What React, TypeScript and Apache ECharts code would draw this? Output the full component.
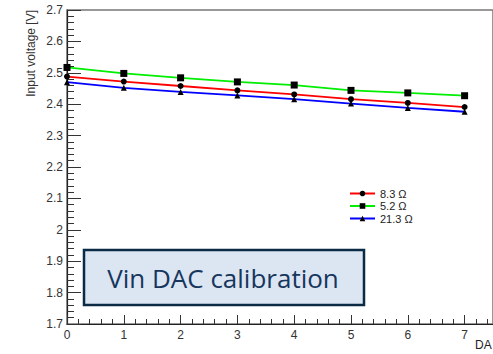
import React, { useEffect, useRef } from "react";
import * as echarts from "echarts";

const dacValues = [0, 1, 2, 3, 4, 5, 6, 7];
const series83 = [2.488, 2.472, 2.458, 2.444, 2.431, 2.416, 2.404, 2.391];
const series52 = [2.517, 2.498, 2.484, 2.471, 2.461, 2.444, 2.436, 2.427];
const series213 = [2.470, 2.452, 2.439, 2.428, 2.416, 2.402, 2.388, 2.376];
const seriesNames = ["8.3 Ω", "5.2 Ω", "21.3 Ω"];

export default function App() {
  const ref = useRef<HTMLDivElement>(null);
  useEffect(() => {
    if (!ref.current) return;
    const chart = echarts.init(ref.current, null, { renderer: "svg" });
    const mk = (vals: number[]) => dacValues.map((x, i) => [x, vals[i]]);
    const labelFont = { fontFamily: "Liberation Sans", fontSize: 12, color: "#333" };
    chart.setOption({
      animation: false,
      backgroundColor: "#fff",
      grid: {
        left: 67,
        right: -1,
        top: 10,
        bottom: 30,
        show: true,
        borderColor: "#777",
        borderWidth: 1.5,
      },
      legend: {
        orient: "vertical",
        left: 344,
        top: 183,
        itemWidth: 25,
        itemHeight: 7,
        itemGap: 1.5,
        textStyle: { fontFamily: "Liberation Sans", fontSize: 11, lineHeight: 11, color: "#222" },
        data: seriesNames,
      },
      xAxis: {
        type: "value",
        min: 0,
        max: 7.5,
        interval: 1,
        axisLine: { lineStyle: { color: "#222", width: 1.2 } },
        axisTick: { inside: true, length: 9, lineStyle: { color: "#333" } },
        minorTick: { show: true, splitNumber: 5, length: 5, lineStyle: { color: "#333" } },
        splitLine: { show: false },
        axisLabel: { ...labelFont, margin: 5, showMaxLabel: false },
      },
      yAxis: {
        type: "value",
        min: 1.7,
        max: 2.7,
        interval: 0.1,
        axisLine: { show: true, lineStyle: { color: "#222", width: 1.2 } },
        axisTick: { show: true, inside: true, length: 14, lineStyle: { color: "#333" } },
        minorTick: { show: true, splitNumber: 5, length: 7, lineStyle: { color: "#333" } },
        splitLine: { show: false },
        axisLabel: { ...labelFont, margin: 4 },
      },
      graphic: [
        {
          type: "text",
          x: 31,
          y: 10,
          rotation: Math.PI / 2,
          style: {
            text: "Input voltage [V]",
            fontFamily: "Liberation Sans",
            fontSize: 12,
            fill: "#333",
            align: "right",
            verticalAlign: "middle",
          },
        },
        {
          type: "text",
          x: 475,
          y: 345,
          style: {
            text: "DA",
            fontFamily: "Liberation Sans",
            fontSize: 12,
            fill: "#222",
            align: "left",
            verticalAlign: "middle",
          },
        },
        {
          type: "rect",
          shape: { x: 84, y: 250, width: 280, height: 55 },
          style: { fill: "#dce6f2", stroke: "#0b2a45", lineWidth: 2.5 },
          z: 10,
        },
        {
          type: "text",
          x: 223,
          y: 278,
          style: {
            text: "Vin DAC calibration",
            fontFamily: "Open Sans",
            fontSize: 26,
            fill: "#17365d",
            align: "center",
            verticalAlign: "middle",
          },
          z: 11,
        },
      ],
      series: [
        {
          name: seriesNames[0],
          type: "line",
          data: mk(series83),
          symbol: "circle",
          symbolSize: 6,
          lineStyle: { color: "#ff0000", width: 1.8 },
          itemStyle: { color: "#000" },
        },
        {
          name: seriesNames[1],
          type: "line",
          data: mk(series52),
          symbol: "rect",
          symbolSize: 7,
          lineStyle: { color: "#00ee00", width: 1.8 },
          itemStyle: { color: "#000" },
        },
        {
          name: seriesNames[2],
          type: "line",
          data: mk(series213),
          symbol: "triangle",
          symbolSize: 6,
          lineStyle: { color: "#0000ff", width: 1.8 },
          itemStyle: { color: "#000" },
        },
      ],
    });
    return () => chart.dispose();
  }, []);
  return (
    <div
      ref={ref}
      style={{ position: "fixed", left: 0, top: 0, width: 493, height: 354 }}
    />
  );
}
